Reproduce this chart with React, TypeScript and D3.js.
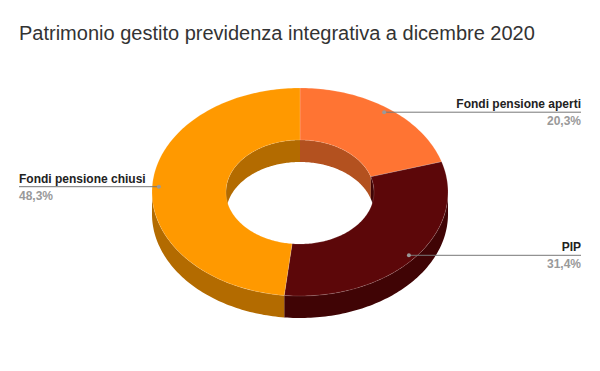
import React, { useEffect, useRef } from 'react';
import * as d3 from 'd3';

const categories = ['Fondi pensione aperti', 'PIP', 'Fondi pensione chiusi'];
const shares = [20.3, 31.4, 48.3];
const shareLabels = ['20,3%', '31,4%', '48,3%'];
const topColors = ['#ff7433', '#5c0709', '#ff9900'];
const sideColors = ['#b3511f', '#400405', '#b36b00'];

const W = 600;
const H = 371;

const App: React.FC = () => {
  const ref = useRef<SVGSVGElement>(null);

  useEffect(() => {
    const svg = d3.select(ref.current);
    svg.selectAll('*').remove();

    const cx = 300;
    const cy = 192;
    const rx = 148;
    const ry = 104;
    const inner = 0.5;
    const depth = 22;

    // punto sull'ellisse, angolo in senso orario dall'alto
    const pt = (a: number, k: number, dy: number): [number, number] => [
      cx + rx * k * Math.sin(a),
      cy - ry * k * Math.cos(a) + dy,
    ];
    const arcPts = (a0: number, a1: number, k: number, dy: number) => {
      const n = Math.max(2, Math.ceil(Math.abs(a1 - a0) / 0.02));
      return d3.range(n + 1).map(i => pt(a0 + ((a1 - a0) * i) / n, k, dy));
    };
    const line = d3.line().curve(d3.curveLinear);

    const pie = d3.pie<number>().sort(null).value(d => d);
    const arcs = pie(shares);

    const g = svg.append('g');

    // pareti esterne (metà anteriore)
    arcs.forEach((d, i) => {
      const a0 = Math.max(d.startAngle, Math.PI / 2);
      const a1 = Math.min(d.endAngle, (3 * Math.PI) / 2);
      if (a1 <= a0) return;
      const pts = [...arcPts(a0, a1, 1, 0), ...arcPts(a1, a0, 1, depth)];
      g.append('path').attr('d', line(pts) + 'Z').attr('fill', sideColors[i]);
    });

    // pareti interne (metà posteriore del foro)
    arcs.forEach((d, i) => {
      const ranges: [number, number][] = [
        [-Math.PI / 2, Math.PI / 2],
        [(3 * Math.PI) / 2, (5 * Math.PI) / 2],
      ];
      ranges.forEach(([r0, r1]) => {
        const a0 = Math.max(d.startAngle, r0);
        const a1 = Math.min(d.endAngle, r1);
        if (a1 <= a0) return;
        const pts = [...arcPts(a0, a1, inner, 0), ...arcPts(a1, a0, inner, depth)];
        g.append('path').attr('d', line(pts) + 'Z').attr('fill', sideColors[i]);
      });
    });

    // facce superiori
    arcs.forEach((d, i) => {
      const pts = [
        ...arcPts(d.startAngle, d.endAngle, 1, 0),
        ...arcPts(d.endAngle, d.startAngle, inner, 0),
      ];
      g.append('path')
        .attr('d', line(pts) + 'Z')
        .attr('fill', topColors[i])
        .attr('stroke', 'rgba(255,255,255,0.25)')
        .attr('stroke-width', 0.6);
    });

    // titolo
    svg.append('text')
      .attr('x', 19)
      .attr('y', 40)
      .attr('font-family', '"Liberation Sans", Arial, sans-serif')
      .attr('font-size', 20)
      .attr('fill', '#333')
      .text('Patrimonio gestito previdenza integrativa a dicembre 2020');

    // etichette
    const labels = svg.append('g').attr('font-family', '"Liberation Sans", Arial, sans-serif');
    arcs.forEach((d, i) => {
      const mid = (d.startAngle + d.endAngle) / 2;
      const [px, py] = pt(mid, 0.955, 0);
      const right = Math.sin(mid) > 0;
      const xEnd = right ? 581 : 19;
      labels.append('line')
        .attr('x1', px).attr('y1', py)
        .attr('x2', xEnd).attr('y2', py)
        .attr('stroke', '#777')
        .attr('stroke-width', 1);
      labels.append('circle')
        .attr('cx', px).attr('cy', py).attr('r', 2)
        .attr('fill', '#999');
      labels.append('text')
        .attr('x', xEnd).attr('y', py - 4)
        .attr('text-anchor', right ? 'end' : 'start')
        .attr('font-size', 12)
        .attr('font-weight', 'bold')
        .attr('fill', '#222')
        .text(categories[i]);
      labels.append('text')
        .attr('x', xEnd).attr('y', py + 13)
        .attr('text-anchor', right ? 'end' : 'start')
        .attr('font-size', 12)
        .attr('font-weight', 'bold')
        .attr('fill', '#999')
        .text(shareLabels[i]);
    });
  }, []);

  return <svg ref={ref} width={W} height={H} style={{ display: 'block', position: 'absolute', left: 0, top: 0, background: '#fff' }} />;
};

export default App;
